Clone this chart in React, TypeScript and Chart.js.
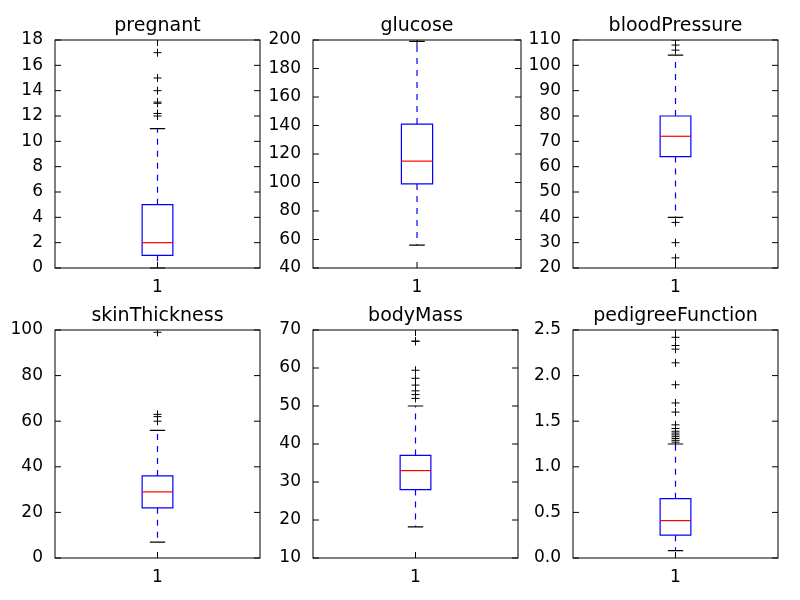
import { useEffect, useRef } from 'react';
import { Chart, registerables } from 'chart.js';

Chart.register(...registerables);

const titles = ['pregnant', 'glucose', 'bloodPressure', 'skinThickness', 'bodyMass', 'pedigreeFunction'];
// [whiskerLow, q1, median, q3, whiskerHigh]
const boxStats = [
  [0, 1, 2, 5, 11],
  [56, 99, 115, 141, 199],
  [40, 64, 72, 80, 104],
  [7, 22, 29, 36, 56],
  [18.2, 28, 33, 37, 50],
  [0.08, 0.25, 0.41, 0.65, 1.25],
];
const outliers = [
  [12, 12.2, 13, 13.1, 14, 15, 17],
  [],
  [106, 108, 110, 38, 30, 24],
  [60, 62, 63, 99],
  [52, 53, 54, 55.5, 57.3, 59.4, 67, 67.1],
  [1.27, 1.29, 1.31, 1.33, 1.35, 1.37, 1.39, 1.42, 1.46, 1.6, 1.7, 1.9, 2.14, 2.29, 2.33, 2.42],
];
const yMin = [0, 40, 20, 0, 10, 0];
const yMax = [18, 200, 110, 100, 70, 2.5];
const yStep = [2, 20, 10, 20, 10, 0.5];

const plotLefts = [55, 313, 573];
const plotTops = [40, 330];
const plotW = 208;
const plotH = 228;
const axisW = 45;
const padTop = 30;
const axisH = 30;

const boxPlugin = {
  id: 'boxDraw',
  beforeDatasetsDraw(chart: any, _a: any, opts: any) {
    const { ctx } = chart;
    const xs = chart.scales.x, ys = chart.scales.y;
    const [lo, q1, med, q3, hi] = opts.stats;
    const px = (v: number) => xs.getPixelForValue(v);
    const py = (v: number) => ys.getPixelForValue(v);
    ctx.save();
    ctx.lineWidth = 1.2;
    ctx.strokeStyle = '#0000ff';
    ctx.setLineDash([6, 6]);
    ctx.beginPath();
    ctx.moveTo(px(1), py(q3)); ctx.lineTo(px(1), py(hi));
    ctx.moveTo(px(1), py(q1)); ctx.lineTo(px(1), py(lo));
    ctx.stroke();
    ctx.setLineDash([]);
    ctx.beginPath();
    ctx.strokeStyle = '#0000ff';
    ctx.rect(px(0.925), py(q3), px(1.075) - px(0.925), py(q1) - py(q3));
    ctx.stroke();
    ctx.strokeStyle = '#000000';
    ctx.beginPath();
    ctx.moveTo(px(0.9625), py(hi)); ctx.lineTo(px(1.0375), py(hi));
    ctx.moveTo(px(0.9625), py(lo)); ctx.lineTo(px(1.0375), py(lo));
    ctx.stroke();
    ctx.strokeStyle = '#ff0000';
    ctx.beginPath();
    ctx.moveTo(px(0.925), py(med)); ctx.lineTo(px(1.075), py(med));
    ctx.stroke();
    ctx.restore();
  },
  afterDraw(chart: any, _a: any, opts: any) {
    const { ctx, chartArea: a } = chart;
    const xs = chart.scales.x, ys = chart.scales.y;
    const px = (v: number) => xs.getPixelForValue(v);
    const py = (v: number) => ys.getPixelForValue(v);
    ctx.save();
    ctx.setLineDash([]);
    ctx.lineWidth = 1;
    ctx.strokeStyle = '#000';
    ctx.strokeRect(a.left, a.top, a.right - a.left, a.bottom - a.top);
    ctx.beginPath();
    ys.ticks.forEach((t: any) => {
      const y = py(t.value);
      ctx.moveTo(a.left, y); ctx.lineTo(a.left + 6, y);
      ctx.moveTo(a.right, y); ctx.lineTo(a.right - 6, y);
    });
    ctx.moveTo(px(1), a.bottom); ctx.lineTo(px(1), a.bottom - 6);
    ctx.moveTo(px(1), a.top); ctx.lineTo(px(1), a.top + 6);
    ctx.stroke();
    ctx.fillStyle = '#000';
    ctx.font = '19px "DejaVu Sans"';
    ctx.textAlign = 'center';
    ctx.textBaseline = 'bottom';
    ctx.fillText(opts.title, (a.left + a.right) / 2, a.top - 4);
    ctx.restore();
  },
};

function Panel({ i }: { i: number }) {
  const ref = useRef<HTMLCanvasElement>(null);
  useEffect(() => {
    if (!ref.current) return;
    const chart = new Chart(ref.current, {
      type: 'scatter',
      data: {
        datasets: [{
          data: outliers[i].map(v => ({ x: 1, y: v })),
          pointStyle: 'cross',
          radius: 4,
          borderColor: '#000',
          borderWidth: 1,
        }],
      },
      options: {
        animation: false,
        responsive: false,
        layout: { padding: { top: padTop, right: 2, left: 0, bottom: 0 } },
        plugins: {
          legend: { display: false },
          tooltip: { enabled: false },
          boxDraw: { stats: boxStats[i], title: titles[i] },
        } as any,
        scales: {
          x: {
            type: 'linear', min: 0.5, max: 1.5,
            afterBuildTicks: (s: any) => { s.ticks = [{ value: 1 }]; },
            afterFit: (s: any) => { s.height = axisH; },
            grid: { display: false }, border: { display: false },
            ticks: { color: '#000', font: { family: 'DejaVu Sans', size: 17 }, callback: () => '1', padding: 1 },
          },
          y: {
            min: yMin[i], max: yMax[i],
            afterFit: (s: any) => { s.width = axisW; },
            grid: { display: false }, border: { display: false },
            ticks: {
              stepSize: yStep[i], color: '#000', padding: 4,
              font: { family: 'DejaVu Sans', size: 17 },
              callback: (v: any) => (i === 5 ? Number(v).toFixed(1) : String(v)),
            },
          },
        },
      },
      plugins: [boxPlugin],
    });
    return () => chart.destroy();
  }, [i]);
  const col = i % 3, row = Math.floor(i / 3);
  return (
    <canvas
      ref={ref}
      width={axisW + plotW + 2}
      height={padTop + plotH + axisH}
      style={{ position: 'absolute', left: plotLefts[col] - axisW, top: plotTops[row] - padTop }}
    />
  );
}

export default function App() {
  return (
    <div style={{ position: 'fixed', left: 0, top: 0, width: 800, height: 600, background: '#fff' }}>
      {titles.map((_, i) => <Panel key={i} i={i} />)}
    </div>
  );
}
